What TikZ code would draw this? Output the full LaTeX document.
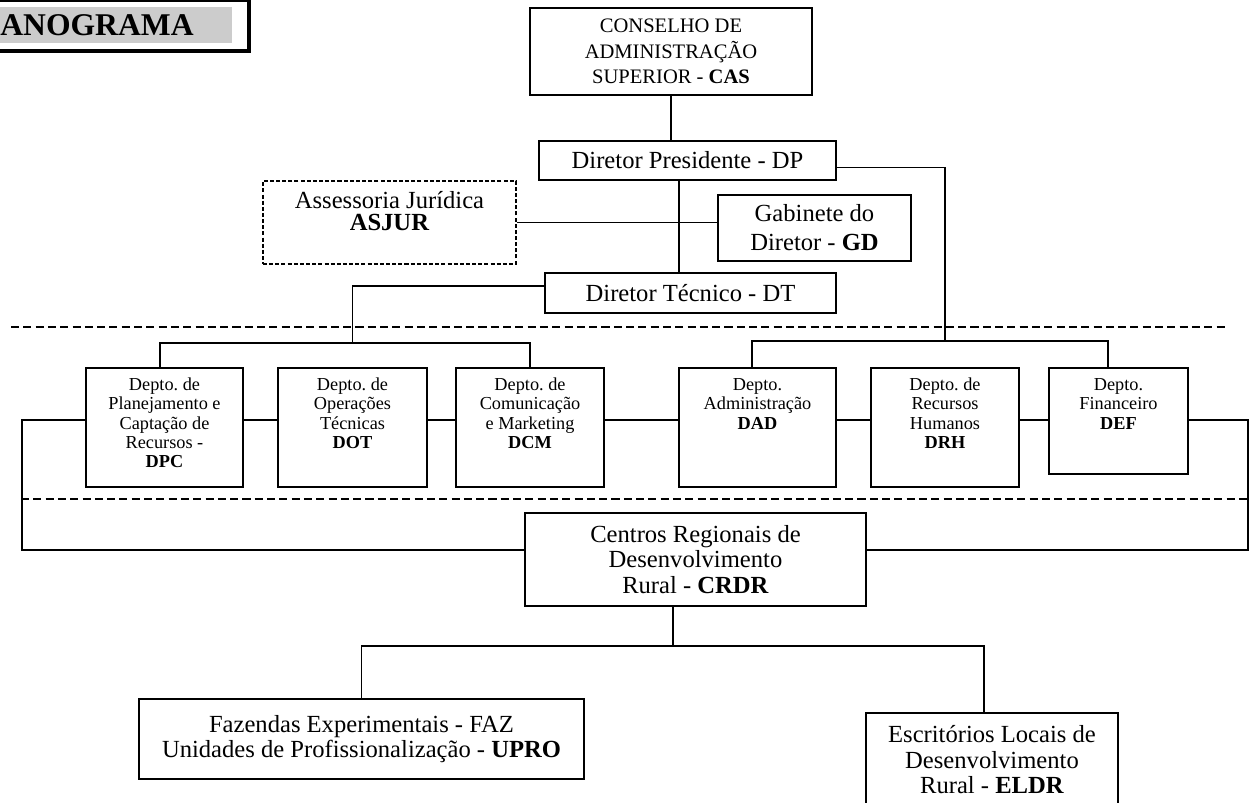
\documentclass[tikz,border=0pt]{standalone}
\usepackage{fontspec}
\setmainfont{Liberation Serif}
\frenchspacing

\begin{document}
\begin{tikzpicture}[
		box/.style={draw, line width=1pt, inner sep=0pt, align=center, font=\fontsize{14}{16.5}\selectfont},
		dept/.style={draw, line width=1pt, inner sep=0pt, align=flush center, anchor=north, text height=0.45cm, font=\fontsize{10.4}{11}\selectfont},
		link/.style={line width=0.85pt},
		split/.style={line width=1.15pt, dash pattern=on 4.6pt off 2.4pt}
	]
	\useasboundingbox (0,0) rectangle (25.08,16.06);
	\clip (0,0) rectangle (25.08,16.06);

	\fill [black!20] (-0.5,15.20) rectangle (4.64,15.92);
	\draw [line width=2.3pt] (-0.5,16.06) rectangle (4.98,15.04);
	\node [anchor=base west, inner sep=0pt, font=\fontsize{18}{20}\selectfont\bfseries] (title) at (0,15.34) {ANOGRAMA};

	\node [box, minimum width=5.64cm, minimum height=1.74cm, font=\fontsize{11.7}{14.5}\selectfont] (cas) at (13.42,15.03) {CONSELHO DE\\ADMINISTRAÇÃO\\SUPERIOR - \textbf{CAS}};
	\node [box, minimum width=5.94cm, minimum height=0.78cm] (dp) at (13.75,12.85) {Diretor Presidente - DP};
	\node [box, align=flush center, dash pattern=on 2.3pt off 1.2pt, line width=0.9pt, anchor=north, text width=5.06cm, text height=0.56cm, text depth=1.10cm, font=\fontsize{14}{12.5}\selectfont] (asjur) at (7.79,12.46) {Assessoria Jurídica\\\textbf{ASJUR}};
	\node [box, minimum width=3.86cm, minimum height=1.32cm] (gd) at (16.29,11.50) {Gabinete do\\Diretor - \textbf{GD}};
	\node [box, minimum width=5.82cm, minimum height=0.80cm] (dt) at (13.81,10.20) {Diretor Técnico - DT};

	\node [dept, text width=3.14cm, text depth=1.93cm] (dpc) at (3.29,8.72) {Depto. de\\Planejamento e\\Captação de\\Recursos -\\\textbf{DPC}};
	\node [dept, text width=2.98cm, text depth=1.93cm] (dot) at (7.05,8.72) {Depto. de\\Operações\\Técnicas\\\textbf{DOT}};
	\node [dept, text width=2.96cm, text depth=1.93cm] (dcm) at (10.60,8.72) {Depto. de\\Comunicação\\e Marketing\\\textbf{DCM}};
	\node [dept, text width=3.14cm, text depth=1.93cm] (dad) at (15.15,8.72) {Depto.\\Administração\\\textbf{DAD}};
	\node [dept, text width=2.96cm, text depth=1.93cm] (drh) at (18.90,8.72) {Depto. de\\Recursos\\Humanos\\\textbf{DRH}};
	\node [dept, text width=2.78cm, text depth=1.67cm] (def) at (22.37,8.72) {Depto.\\Financeiro\\\textbf{DEF}};

	\node [box, minimum width=6.82cm, minimum height=1.86cm, font=\fontsize{14}{14.5}\selectfont] (crdr) at (13.91,4.87) {Centros Regionais de\\Desenvolvimento\\Rural - \textbf{CRDR}};
	\node [box, minimum width=8.90cm, minimum height=1.60cm, font=\fontsize{14}{12.5}\selectfont] (faz) at (7.23,1.28) {Fazendas Experimentais - FAZ\\Unidades de Profissionalização - \textbf{UPRO}};
	\node [box, align=flush center, anchor=north, text width=5.04cm, text height=0.60cm, text depth=1.36cm, font=\fontsize{14}{14.5}\selectfont] (eldr) at (19.84,1.82) {Escritórios Locais de\\Desenvolvimento\\Rural - \textbf{ELDR}};

	\coordinate (lbus) at (0,9.20);
	\coordinate (rbus) at (0,9.24);
	\coordinate (row) at (0,7.66);
	\coordinate (crow) at (0,5.06);
	\coordinate (bbus) at (0,3.14);
	\coordinate (lside) at (0.44,0);
	\coordinate (rside) at (24.96,0);

	\draw [split] (0.22,9.52) -- (24.56,9.52);
	\draw [split] (0.42,6.08) -- (25.00,6.08);

	\draw [link] (cas.south) -- (cas.south |- dp.north);
	\coordinate (dpdown) at ([xshift=-1.7mm]dp.south);
	\draw [link] (dpdown) -- (dpdown |- dt.north);
	\draw [link] (asjur.east) -- (asjur.east -| gd.west);
	\draw [link] ([yshift=-1.4mm]dp.east) -| (drh.north |- rbus);
	\draw [link] ([yshift=1.4mm]dt.west) -| (dot.north |- lbus);

	\coordinate (dpcup) at ([xshift=-0.9mm]dpc.north);
	\draw [link] (dpcup) |- (dcm.north |- lbus) -- (dcm.north);
	\coordinate (dadup) at ([xshift=-1.1mm]dad.north);
	\coordinate (defup) at ([xshift=-2.1mm]def.north);
	\draw [link] (dadup) |- (defup |- rbus) -- (defup);

	\foreach \a/\b in {dpc/dot, dot/dcm, dcm/dad, dad/drh, drh/def}
		\draw [link] (\a.east |- row) -- (\b.west |- row);
	\draw [link] (dpc.west |- row) -- (lside |- row) |- (crdr.west |- crow);
	\draw [link] (def.east |- row) -- (rside |- row) |- (crdr.east |- crow);

	\coordinate (crdrdown) at ([xshift=-4.5mm]crdr.south);
	\draw [link] (crdrdown) -- (crdrdown |- bbus);
	\coordinate (eldrup) at ([xshift=-1.6mm]eldr.north);
	\draw [link] (faz.north) |- (eldrup |- bbus) -- (eldrup);
\end{tikzpicture}
\end{document}
